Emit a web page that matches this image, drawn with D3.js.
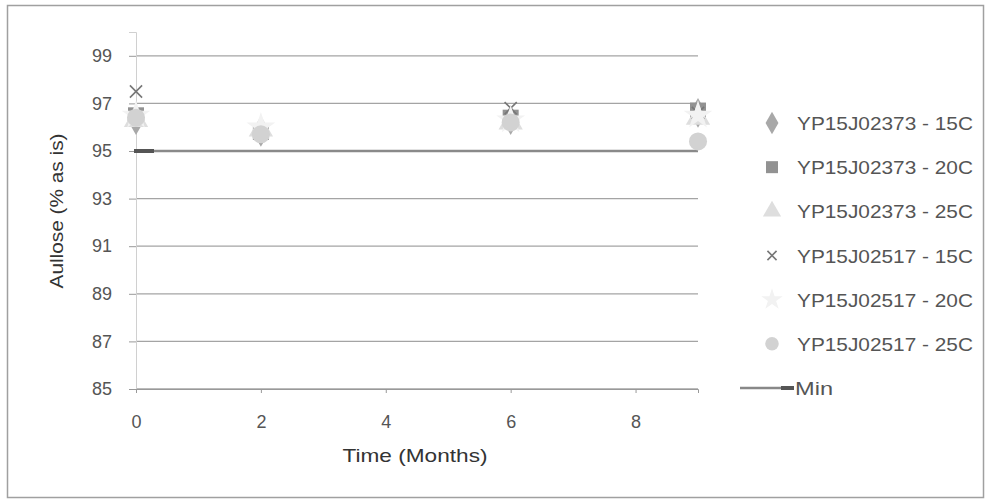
<!DOCTYPE html>
<html>
<head>
<meta charset="utf-8">
<script src="https://cdn.jsdelivr.net/npm/d3@7"></script>
<style>
  body { margin: 0; background: #fff; }
  text { font-family: "Liberation Sans", "DejaVu Sans", sans-serif; }
</style>
</head>
<body>
<svg width="985" height="504"></svg>
<script>
const months = [0, 2, 6, 9];
const yTicks = [85, 87, 89, 91, 93, 95, 97, 99];
const xTicks = [0, 2, 4, 6, 8];

const lot2373_15 = [96.3, 95.8, 96.3, 96.6];
const lot2373_20 = [96.5, 95.8, 96.4, 96.7];
const lot2373_25 = [96.3, 95.9, 96.2, 96.4];
const lot2517_15 = [97.5, 95.9, 96.8, 96.6];
const lot2517_20 = [96.5, 96.0, 96.3, 96.5];
const lot2517_25 = [96.4, 95.7, 96.2, 95.4];
const minSpec = [95, 95];
const minMonths = [0, 9];

const series = [
  { name: 'YP15J02373 - 15C', values: lot2373_15, shape: 'diamond', color: '#a8a8a8' },
  { name: 'YP15J02373 - 20C', values: lot2373_20, shape: 'square', color: '#929292' },
  { name: 'YP15J02373 - 25C', values: lot2373_25, shape: 'triangle', color: '#dedede' },
  { name: 'YP15J02517 - 15C', values: lot2517_15, shape: 'x', color: '#777' },
  { name: 'YP15J02517 - 20C', values: lot2517_20, shape: 'star', color: '#f2f2f2' },
  { name: 'YP15J02517 - 25C', values: lot2517_25, shape: 'circle', color: '#d2d2d2' }
];

const svg = d3.select('svg');
const margin = { left: 136, top: 32, right: 287, bottom: 115 };
const width = +svg.attr('width');
const height = +svg.attr('height');

// chart border
svg.append('rect')
  .attr('x', 7.5).attr('y', 5.5)
  .attr('width', 976).attr('height', 492)
  .attr('fill', 'none').attr('stroke', '#a0a0a0').attr('stroke-width', 1.5);

const xScale = d3.scaleLinear().domain([0, 9]).range([margin.left, width - margin.right]);
const yScale = d3.scaleLinear().domain([85, 100]).range([height - margin.bottom, margin.top]);

// gridlines
svg.append('g')
  .selectAll('line')
  .data(yTicks)
  .join('line')
  .attr('x1', xScale(0)).attr('x2', xScale(9))
  .attr('y1', d => yScale(d)).attr('y2', d => yScale(d))
  .attr('stroke', '#a4a4a4').attr('stroke-width', 1.3);

// y axis
const yAxis = svg.append('g')
  .attr('transform', `translate(${xScale(0)},0)`)
  .call(d3.axisLeft(yScale).tickValues(yTicks).tickSize(7).tickPadding(17));
yAxis.select('.domain').attr('stroke', '#d0d0d0');
yAxis.selectAll('line').attr('stroke', '#999');
yAxis.selectAll('text').attr('font-size', 18).attr('fill', '#555');

// x axis
const xAxis = svg.append('g')
  .attr('transform', `translate(0,${yScale(85)})`)
  .call(d3.axisBottom(xScale).tickValues(xTicks).tickSize(4).tickPadding(22));
xAxis.select('.domain').attr('stroke', '#999');
xAxis.selectAll('line').attr('stroke', '#999');
xAxis.selectAll('text').attr('font-size', 18).attr('fill', '#555');

// axis titles
svg.append('text')
  .attr('transform', `translate(63,211) rotate(-90)`)
  .attr('text-anchor', 'middle')
  .attr('font-size', 19).attr('fill', '#333')
  .attr('textLength', 155).attr('lengthAdjust', 'spacingAndGlyphs')
  .text('Aullose (% as is)');

svg.append('text')
  .attr('x', 415).attr('y', 462)
  .attr('text-anchor', 'middle')
  .attr('font-size', 19).attr('fill', '#333')
  .attr('textLength', 145).attr('lengthAdjust', 'spacingAndGlyphs')
  .text('Time (Months)');

// min line, dash marker at the start
const line = d3.line().x(d => xScale(d[0])).y(d => yScale(d[1]));
const minPts = minMonths.map((m, i) => [m, minSpec[i]]);
svg.append('path')
  .datum(minPts)
  .attr('d', line)
  .attr('fill', 'none').attr('stroke', '#8a8a8a').attr('stroke-width', 2.5);
svg.append('g')
  .selectAll('rect')
  .data(minPts.slice(0, 1))
  .join('rect')
  .attr('x', d => xScale(d[0]) - 2).attr('y', d => yScale(d[1]) - 2)
  .attr('width', 20).attr('height', 4)
  .attr('fill', '#555');

function marker(sel, shape, color, size) {
  if (shape === 'x') {
    const s = size * 0.38;
    sel.append('path')
      .attr('d', `M${-s},${-s}L${s},${s}M${-s},${s}L${s},${-s}`)
      .attr('stroke', color).attr('stroke-width', 1.6).attr('fill', 'none');
    return;
  }
  const types = { diamond: d3.symbolDiamond, square: d3.symbolSquare, triangle: d3.symbolTriangle, star: d3.symbolStar, circle: d3.symbolCircle };
  sel.append('path')
    .attr('d', d3.symbol().type(types[shape]).size(size * size))
    .attr('fill', color);
}

// points
series.forEach(s => {
  const g = svg.append('g');
  s.values.forEach((v, i) => {
    const p = g.append('g').attr('transform', `translate(${xScale(months[i])},${yScale(v)})`);
    marker(p, s.shape, s.color, 16);
  });
});

// legend
const legend = svg.append('g');
const rowY = d3.scaleLinear().domain([0, 6]).range([123, 388]);
series.forEach((s, i) => {
  const row = legend.append('g').attr('transform', `translate(0,${rowY(i)})`);
  const m = row.append('g').attr('transform', 'translate(772,0)');
  marker(m, s.shape, s.color, 12);
  row.append('text').attr('x', 797).attr('y', 7)
    .attr('font-size', 19).attr('fill', '#555')
    .attr('textLength', 176).attr('lengthAdjust', 'spacingAndGlyphs')
    .text(s.name);
});
const minRow = legend.append('g').attr('transform', `translate(0,${rowY(6)})`);
minRow.append('line').attr('x1', 740).attr('x2', 794)
  .attr('stroke', '#888').attr('stroke-width', 2.5);
minRow.append('rect').attr('x', 781).attr('y', -2).attr('width', 13).attr('height', 4).attr('fill', '#555');
minRow.append('text').attr('x', 795).attr('y', 7)
  .attr('font-size', 19).attr('fill', '#555')
  .attr('textLength', 38).attr('lengthAdjust', 'spacingAndGlyphs')
  .text('Min');
</script>
</body>
</html>
